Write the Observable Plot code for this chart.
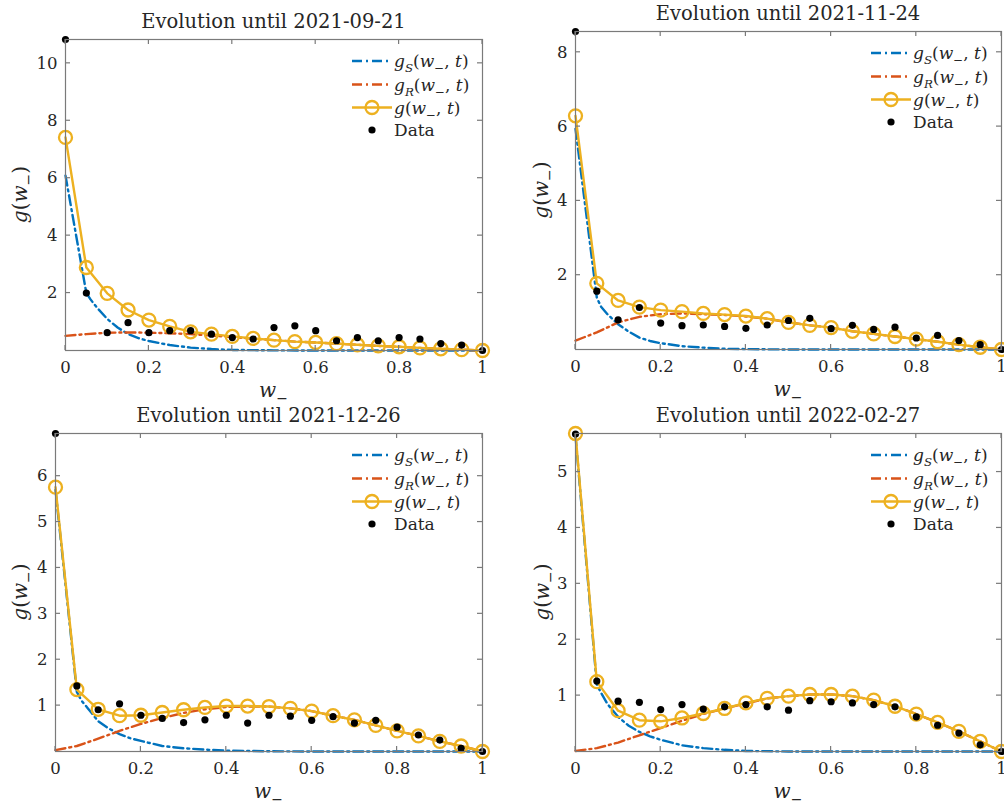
<!DOCTYPE html>
<html><head><meta charset="utf-8">
<script src="https://cdn.jsdelivr.net/npm/d3@7"></script>
<script src="https://cdn.jsdelivr.net/npm/@observablehq/plot@0.6"></script>
<style>
html,body{margin:0;padding:0;background:#fff;}
#fig{position:relative;width:1004px;height:809px;overflow:hidden;background:#fff;}
.panel{position:absolute;}
</style></head><body><div id="fig"></div>
<script>
// ---- data ----
const w = [0,0.05,0.1,0.15,0.2,0.25,0.3,0.35,0.4,0.45,0.5,0.55,0.6,0.65,0.7,0.75,0.8,0.85,0.9,0.95,1];
const wS = [0,0.05,0.06,0.075,0.1,0.125,0.15,0.175,0.2,0.25,0.3,0.35,0.4,0.5,0.6,0.7,0.8,0.9,1];
const xTicks = [0,0.2,0.4,0.6,0.8,1];
const titles = ["Evolution until 2021-09-21","Evolution until 2021-11-24","Evolution until 2021-12-26","Evolution until 2022-02-27"];

const data1 = [10.83,2.0,0.62,0.97,0.62,0.69,0.69,0.57,0.45,0.40,0.80,0.86,0.69,0.34,0.45,0.34,0.45,0.40,0.24,0.19,0];
const g1    = [7.42,2.89,1.99,1.41,1.06,0.84,0.65,0.57,0.49,0.42,0.36,0.31,0.28,0.24,0.2,0.16,0.13,0.09,0.06,0.03,0];
const gR1   = [0.51,0.57,0.62,0.63,0.62,0.6,0.57,0.52,0.47,0.41,0.36,0.31,0.28,0.24,0.2,0.16,0.13,0.09,0.06,0.03,0];
const gS1   = [6.09,2.0,1.78,1.5,1.1,0.8,0.57,0.43,0.33,0.19,0.1,0.05,0.02,0.005,0,0,0,0,0];
const yTicks1 = [2,4,6,8,10];

const data2 = [8.56,1.57,0.80,1.13,0.71,0.64,0.66,0.62,0.57,0.66,0.78,0.84,0.56,0.65,0.54,0.60,0.31,0.38,0.24,0.13,0];
const g2    = [6.29,1.78,1.32,1.14,1.06,1.02,0.97,0.94,0.9,0.83,0.73,0.65,0.59,0.49,0.42,0.35,0.28,0.21,0.13,0.06,0];
const gR2   = [0.24,0.46,0.73,0.88,0.95,0.97,0.95,0.93,0.89,0.83,0.73,0.65,0.59,0.49,0.42,0.35,0.28,0.21,0.13,0.06,0];
const gS2   = [5.94,1.4,1.15,0.95,0.68,0.48,0.32,0.23,0.17,0.09,0.05,0.02,0.01,0,0,0,0,0,0];
const yTicks2 = [2,4,6,8];

const data3 = [6.93,1.43,0.91,1.04,0.79,0.72,0.63,0.69,0.79,0.62,0.79,0.77,0.68,0.76,0.62,0.68,0.53,0.36,0.25,0.07,0];
const g3    = [5.76,1.35,0.92,0.78,0.79,0.85,0.91,0.96,0.99,0.99,0.98,0.94,0.88,0.78,0.69,0.57,0.45,0.34,0.22,0.12,0];
const gR3   = [0.03,0.12,0.28,0.45,0.6,0.73,0.84,0.92,0.97,0.98,0.98,0.94,0.88,0.78,0.69,0.57,0.45,0.34,0.22,0.12,0];
const gS3   = [5.7,1.3,1.12,0.95,0.66,0.5,0.38,0.29,0.23,0.12,0.07,0.04,0.02,0.005,0,0,0,0,0];
const yTicks3 = [1,2,3,4,5,6];

const data4 = [5.68,1.26,0.90,0.88,0.75,0.84,0.76,0.80,0.84,0.80,0.74,0.91,0.89,0.87,0.84,0.80,0.62,0.47,0.33,0.12,0];
const g4    = [5.69,1.25,0.73,0.56,0.54,0.6,0.68,0.77,0.87,0.95,0.99,1.02,1.02,0.99,0.92,0.81,0.67,0.52,0.36,0.18,0];
const gR4   = [0.01,0.06,0.16,0.29,0.42,0.55,0.67,0.77,0.86,0.95,0.99,1.02,1.02,0.99,0.92,0.81,0.67,0.52,0.36,0.18,0];
const gS4   = [5.65,1.2,1.05,0.85,0.62,0.46,0.35,0.27,0.21,0.11,0.06,0.03,0.01,0,0,0,0,0,0];
const yTicks4 = [1,2,3,4,5];

// ---- layout ----
const panels = [
  {title:titles[0], data:data1, g:g1, gR:gR1, gS:gS1, yTicks:yTicks1, box:[0,0,500,400],   m:[39,18,50,65], yOff:45},
  {title:titles[1], data:data2, g:g2, gR:gR2, gS:gS2, yTicks:yTicks2, box:[500,0,504,400], m:[31,3,51,75],  yOff:34},
  {title:titles[2], data:data3, g:g3, gR:gR3, gS:gS3, yTicks:yTicks3, box:[0,400,500,409], m:[33,18,58,55], yOff:35},
  {title:titles[3], data:data4, g:g4, gR:gR4, gS:gS4, yTicks:yTicks4, box:[500,400,504,409],m:[33,3,58,75], yOff:33},
];
const FONT = "'DejaVu Serif','Liberation Serif',serif";
const TXT = "#262626";
const cBlue = "#0072BD", cRed = "#D95319", cYel = "#EDB120";
const dash = "10,4,2,4";
const LW = 2.4;

function mathText(sel, parts, size) {
  let shifted = false;
  parts.forEach(([t, k]) => {
    const ts = sel.append("tspan").text(t);
    const sub = k[0] === "s";
    if (sub && !shifted) { ts.attr("dy", size * 0.3); shifted = true; }
    else if (!sub && shifted) { ts.attr("dy", -size * 0.3); shifted = false; }
    ts.attr("font-size", sub ? size * 0.7 : size)
      .attr("font-style", k.endsWith("i") ? "italic" : "normal");
  });
}

const legendParts = [
  [["g","i"],["S","si"],["(","r"],["w","i"],["\u2212","sr"],[", ","r"],["t","i"],[")","r"]],
  [["g","i"],["R","si"],["(","r"],["w","i"],["\u2212","sr"],[", ","r"],["t","i"],[")","r"]],
  [["g","i"],["(","r"],["w","i"],["\u2212","sr"],[", ","r"],["t","i"],[")","r"]],
  [["Data","r"]]
];

const fig = document.getElementById("fig");
panels.forEach(p => {
  const [L, T, W, H] = p.box;
  const [mt, mr, mb, ml] = p.m;
  const ymax = d3.max([...p.data, ...p.g]);
  const rows = w.map((x, i) => ({x, d: p.data[i], g: p.g[i], r: p.gR[i]}));
  const sRows = wS.map((x, i) => ({x, s: p.gS[i]}));
  const plot = Plot.plot({
    width: W, height: H, marginTop: mt, marginRight: mr, marginBottom: mb, marginLeft: ml,
    style: {fontFamily: FONT, fontSize: "16.5px", color: TXT, background: "transparent", overflow: "visible"},
    x: {domain: [0, 1]},
    y: {domain: [0, ymax]},
    marks: [
      Plot.lineY(sRows, {x: "x", y: "s", stroke: cBlue, strokeWidth: LW, strokeDasharray: dash}),
      Plot.lineY(rows, {x: "x", y: "r", stroke: cRed, strokeWidth: LW, strokeDasharray: dash}),
      Plot.lineY(rows, {x: "x", y: "g", stroke: cYel, strokeWidth: LW}),
      Plot.dot(rows, {x: "x", y: "g", r: 6.5, stroke: cYel, strokeWidth: 2.3, fill: "none"}),
      Plot.dot(rows, {x: "x", y: "d", r: 3.6, fill: "#000", stroke: "none"}),
      Plot.frame({stroke: "#7a7a7a", strokeWidth: 1.2}),
      Plot.axisX({ticks: xTicks, tickSize: 0, tickPadding: 11, label: null, tickFormat: d => String(d), fontFamily: FONT, fontSize: 16.5}),
      Plot.axisY({ticks: p.yTicks, tickSize: 0, tickPadding: 8, label: null, tickFormat: d => String(d), fontFamily: FONT, fontSize: 16.5})
    ]
  });
  const div = document.createElement("div");
  div.className = "panel";
  div.style.left = L + "px"; div.style.top = T + "px";
  div.style.width = W + "px"; div.style.height = H + "px";
  div.appendChild(plot);
  fig.appendChild(div);

  const svg = d3.select(plot);
  const xs = plot.scale("x"), ys = plot.scale("y");
  const x0 = ml, x1 = W - mr, y0 = mt, y1 = H - mb;
  const tk = 5;
  const tg = svg.append("g").attr("stroke", "#7a7a7a").attr("stroke-width", 1.2);
  xTicks.forEach(v => {
    const x = xs.apply(v);
    tg.append("line").attr("x1", x).attr("x2", x).attr("y1", y1).attr("y2", y1 - tk);
    tg.append("line").attr("x1", x).attr("x2", x).attr("y1", y0).attr("y2", y0 + tk);
  });
  p.yTicks.forEach(v => {
    const y = ys.apply(v);
    tg.append("line").attr("y1", y).attr("y2", y).attr("x1", x0).attr("x2", x0 + tk);
    tg.append("line").attr("y1", y).attr("y2", y).attr("x1", x1).attr("x2", x1 - tk);
  });

  // title
  svg.append("text").attr("x", (x0 + x1) / 2).attr("y", y0 - 11)
    .attr("text-anchor", "middle").attr("fill", TXT)
    .attr("font-family", FONT).attr("font-size", 19.5).text(p.title);
  // x label
  const xl = svg.append("text").attr("x", (x0 + x1) / 2).attr("y", y1 + 47)
    .attr("text-anchor", "middle").attr("fill", TXT).attr("font-family", FONT);
  mathText(xl, [["w","i"],["\u2212","sr"]], 20);
  // y label
  const yl = svg.append("text")
    .attr("transform", `translate(${x0 - p.yOff + 7},${(y0 + y1) / 2}) rotate(-90)`)
    .attr("text-anchor", "middle").attr("fill", TXT).attr("font-family", FONT);
  mathText(yl, [["g","i"],["(","r"],["w","i"],["\u2212","sr"],[")","r"]], 20);

  // legend
  const rowsY = [22, 45.5, 68.5, 91];
  const lx1 = x1 - 130, lx2 = x1 - 90, lxm = x1 - 110, ltx = x1 - 88;
  const lg = svg.append("g");
  rowsY.forEach((dy, i) => {
    const y = y0 + dy;
    if (i === 0 || i === 1) {
      lg.append("line").attr("x1", lx1).attr("x2", lx2).attr("y1", y).attr("y2", y)
        .attr("stroke", i === 0 ? cBlue : cRed).attr("stroke-width", LW).attr("stroke-dasharray", dash);
    } else if (i === 2) {
      lg.append("line").attr("x1", lx1).attr("x2", lx2).attr("y1", y).attr("y2", y)
        .attr("stroke", cYel).attr("stroke-width", LW);
      lg.append("circle").attr("cx", lxm).attr("cy", y).attr("r", 6.5)
        .attr("fill", "none").attr("stroke", cYel).attr("stroke-width", 2.3);
    } else {
      lg.append("circle").attr("cx", lxm).attr("cy", y).attr("r", 3.6).attr("fill", "#000");
    }
    const t = lg.append("text").attr("x", ltx).attr("y", y + 6).attr("fill", TXT)
      .attr("text-anchor", "start").attr("font-family", FONT);
    mathText(t, legendParts[i], 17);
  });
});
</script></body></html>
